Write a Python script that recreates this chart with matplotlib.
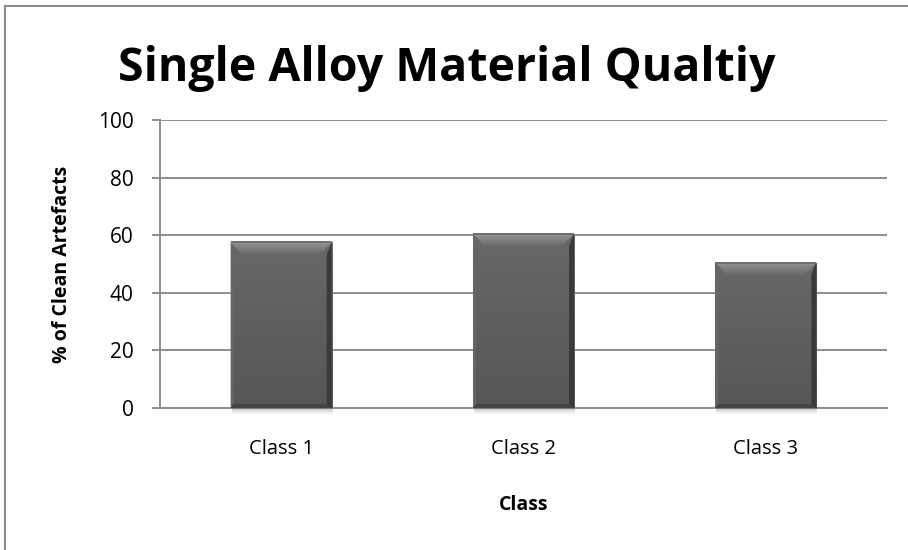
import numpy as np
import matplotlib
matplotlib.use("Agg")
import matplotlib.pyplot as plt
from matplotlib.patches import Polygon, Rectangle

# Chart data
categories = ["Class 1", "Class 2", "Class 3"]
clean_pct = [57.5, 60.5, 50.5]
y_ticks = [0, 20, 40, 60, 80, 100]

title = "Single Alloy Material Qualtiy"
x_label = "Class"
y_label = "% of Clean Artefacts"

plt.rcParams["font.family"] = ["Open Sans", "DejaVu Sans"]

DPI = 100
fig = plt.figure(figsize=(9.08, 5.5), dpi=DPI)
fig.patch.set_facecolor("white")

# outer chart frame (left and top edges visible)
fig.add_artist(Rectangle((5 / 908, -0.1), 2.0, 1.1 - 6 / 550, transform=fig.transFigure,
                         fill=False, edgecolor="#8c8c8c", linewidth=1.5))

ax = fig.add_axes([160 / 908, 142 / 550, 727 / 908, 288 / 550])
grid_c = "#8e8e8e"
ax.set_ylim(0, 100)
ax.set_xlim(-0.5, len(categories) - 0.5)
ax.set_yticks(y_ticks)
ax.yaxis.grid(True, color=grid_c, linewidth=1.4)
ax.set_axisbelow(True)
for s in ("top", "right"):
    ax.spines[s].set_visible(False)
for s in ("left", "bottom"):
    ax.spines[s].set_color(grid_c)
    ax.spines[s].set_linewidth(1.4)
ax.tick_params(axis="y", length=6, width=1.4, color=grid_c, pad=13, labelsize=15)
ax.tick_params(axis="x", length=0, pad=22, labelsize=14.5)

x = np.arange(len(categories))
bars = ax.bar(x, clean_pct, width=0.417, color="#5c5c5c", zorder=3)
ax.set_xticks(x)
ax.set_xticklabels(categories)

fig.canvas.draw()
inv = fig.transFigure.inverted()

def disp_poly(pts, color, z, alpha=1.0):
    fpts = inv.transform(np.array(pts, dtype=float))
    fig.add_artist(Polygon(fpts, closed=True, transform=fig.transFigure,
                           facecolor=color, edgecolor="none", zorder=z, alpha=alpha))

def mix(c1, c2, t):
    a = np.array(matplotlib.colors.to_rgb(c1))
    b = np.array(matplotlib.colors.to_rgb(c2))
    return tuple(a * (1 - t) + b * t)

# bevel shading and soft shadow for each bar
for b in bars:
    x0, y0 = b.get_x(), b.get_y()
    x1, y1 = x0 + b.get_width(), y0 + b.get_height()
    (L, B), (R, T) = ax.transData.transform([(x0, y0), (x1, y1)])
    # face gradient
    grad = np.linspace(0, 1, 64).reshape(-1, 1)
    cols = np.zeros((64, 1, 3))
    top_c = np.array([0x68, 0x68, 0x68]) / 255
    bot_c = np.array([0x56, 0x56, 0x56]) / 255
    cols[:, 0, :] = top_c * (1 - grad) + bot_c * grad
    im = ax.imshow(cols, extent=(x0, x1, y0, y1), aspect="auto", origin="upper",
                   zorder=3.1, interpolation="bilinear")
    im.set_clip_path(b)
    # shadow under the bar
    for k, a in enumerate([0.3, 0.18, 0.08]):
        disp_poly([(L + 1, B - k * 2), (R + 1, B - k * 2), (R + 1, B - 2 - k * 2),
                   (L + 1, B - 2 - k * 2)], "#555555", 2.9, a)
    tb, sb, rb, bb = 12, 3, 5, 4
    # left bevel
    disp_poly([(L, T), (L + sb, T - tb), (L + sb, B + bb), (L, B)], "#666666", 5)
    # right bevel (dark)
    disp_poly([(R, T), (R, B), (R - rb, B + bb), (R - rb, T - tb)], "#3a3a3a", 5)
    # bottom bevel (dark)
    disp_poly([(L, B), (R, B), (R - rb, B + bb), (L + sb, B + bb)], "#444444", 5)
    # top bevel: light band fading into the face, with mitred corners
    n = 12
    for i in range(n):
        t0, t1 = i / n, (i + 1) / n
        c = mix("#a0a0a0", "#6a6a6a", t0)
        disp_poly([(L + tb * t0, T - tb * t0), (R - tb * t0, T - tb * t0),
                   (R - tb * t1, T - tb * t1), (L + tb * t1, T - tb * t1)], c, 5.1)
    # top edge line
    disp_poly([(L, T + 1), (R, T + 1), (R, T - 1), (L, T - 1)], "#707070", 5.2)

fig.text(447 / 908, 1 - 81 / 550, title, ha="center", va="baseline",
         fontsize=33.5, fontweight="bold", color="black")
fig.text(524 / 908, 1 - 505 / 550, x_label, ha="center", va="center",
         fontsize=14, fontweight="bold")
fig.text(62 / 908, 1 - 264 / 550, y_label, ha="center", va="center", rotation=90,
         fontsize=14, fontweight="bold")

fig.savefig("out.png", dpi=DPI, facecolor="white")
